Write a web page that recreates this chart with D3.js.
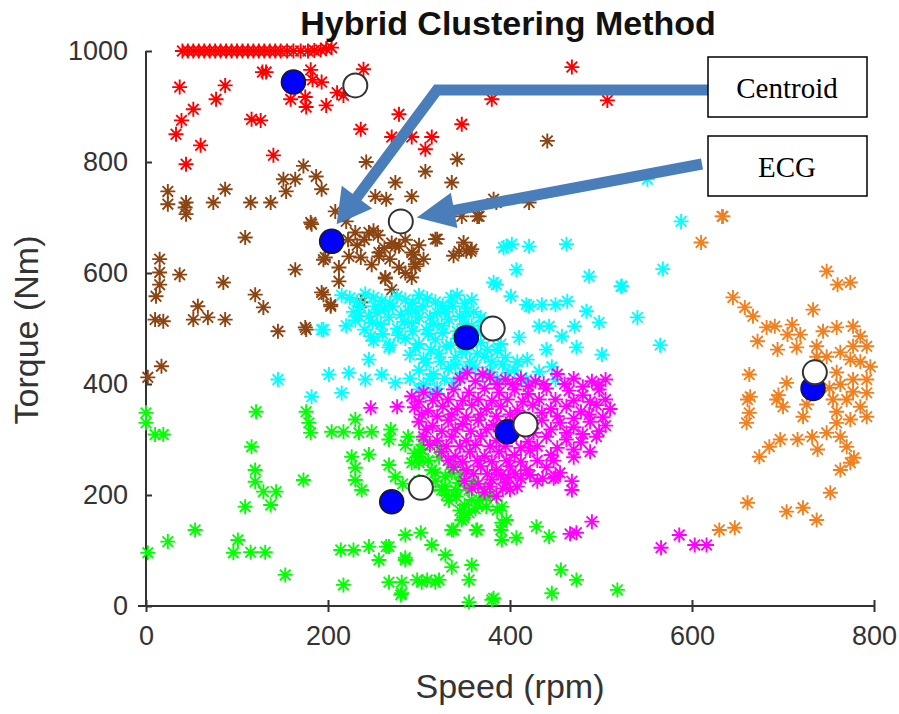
<!DOCTYPE html>
<html>
<head>
<meta charset="utf-8">
<script src="https://cdn.jsdelivr.net/npm/d3@7"></script>
<style>
  body { margin: 0; background: #fff; }
  text { font-family: "Liberation Sans", Arial, Helvetica, sans-serif; }
</style>
</head>
<body>
<div id="chart"></div>
<script>
// cluster points: [speed (rpm), torque (Nm)]
const redPts = [
  [40,1000],[46,1000],[52,1000],[58,1000],[64,1000],[70,1000],[76,1000],[82,1000],[88,1000],[94,1000],
  [100,1000],[106,1000],[112,1000],[118,1000],[124,1000],[130,1000],[136,1000],[142,1000],[148,1000],
  [155,1000],[162,1000],[170,1000],[178,1000],[185,1001],[192,1002],[198,1004],[204,1006],
  [37,935],[87,938],[77,913],[52,895],[39,875],[33,850],[60,830],[44,796],[132,962],[181,966],
  [193,944],[159,913],[175,917],[176,899],[198,902],[217,920],[239,967],[116,877],[126,875],
  [140,812],[236,859],[278,886],[270,845],[292,845],[314,845],[307,823],[347,868],[380,913],
  [468,971],[507,911],[128,962],[183,948],[210,925]
];
const brownPts = [
  [24,747],[24,724],[44,727],[44,706],[43,718],[87,751],[74,727],[115,727],[137,727],[151,769],
  [173,793],[187,774],[193,751],[164,769],[154,747],[109,664],[181,691],[208,711],[242,800],
  [274,763],[252,738],[264,733],[292,738],[307,783],[342,805],[336,763],[245,673],[250,676],
  [230,673],[220,693],[274,648],[256,630],[292,637],[296,616],[278,610],[263,592],[292,592],
  [270,570],[223,630],[212,610],[197,628],[212,585],[193,565],[203,543],[164,606],[320,661],
  [344,639],[358,643],[237,547],[176,498],[145,495],[85,583],[120,561],[129,538],[57,540],
  [52,516],[68,520],[87,516],[10,516],[19,513],[15,625],[15,601],[15,579],[11,558],[37,597],
  [182,688],[318,661],[352,639],[195,624],[236,628],[256,637],[278,648],[294,633],[296,612],
  [195,561],[203,540],[236,547],[175,502],[2,412],[17,432],[441,838],[364,702],[347,702],
  [421,727],[385,727],[382,733],[366,702],[349,655],[357,639],[338,631],[270,654],[263,590],
  [240,660],[255,668],[262,645],[285,660],[300,650],[248,615],[268,625],[285,600],[305,625],
  [232,650],[222,660]
];
const cyanPts = [
  [215,560],[232,548],[250,556],[268,545],[285,552],[300,560],[318,548],[335,556],[350,545],
  [228,530],[245,522],[262,535],[280,525],[296,532],[312,520],[328,530],[345,522],[360,530],
  [220,505],[240,498],[258,508],[276,500],[292,510],[308,498],[325,505],[342,495],[358,505],
  [372,512],[250,478],[268,470],[285,482],[300,472],[318,480],[335,470],[352,462],[368,475],
  [382,485],[290,452],[305,445],[322,455],[340,448],[356,440],[372,450],[386,460],[300,425],
  [316,418],[332,428],[348,420],[362,430],[378,422],[392,435],[305,400],[320,392],[338,402],
  [312,382],[396,648],[421,648],[462,652],[407,606],[382,583],[401,558],[487,594],[522,576],
  [421,540],[435,543],[450,543],[463,549],[484,531],[432,504],[443,504],[471,504],[498,511],
  [457,486],[410,484],[473,466],[440,462],[501,453],[419,444],[446,431],[432,422],[418,408],
  [450,408],[201,417],[223,420],[245,444],[241,408],[259,417],[274,402],[215,384],[182,377],
  [195,498],[234,522],[267,466],[247,486],[252,540],[588,693],[568,607],[523,576],[551,769],
  [145,408],[402,652],[393,646],[385,579],[418,543],[540,520],[193,498],[565,470],
  [224,555],[241,562],[259,550],[276,558],[293,546],[309,554],[326,542],[342,560],[358,552],
  [236,540],[254,528],[271,540],[288,532],[304,540],[320,528],[337,540],[352,530],[368,520],
  [230,515],[249,510],[267,520],[284,512],[300,520],[316,508],[333,516],[350,508],[365,495],
  [380,500],[260,490],[277,488],[293,495],[310,490],[326,492],[343,482],[360,488],[375,462],
  [390,472],[296,465],[313,462],[330,468],[347,458],[364,455],[380,440],[395,448],[308,438],
  [324,440],[340,435],[356,428],[370,415],[386,410],[312,410],[328,410],[346,412],[300,390],
  [290,410],[405,425],[408,440],[398,420]
];
const greenPts = [
  [0,348],[0,330],[10,309],[19,309],[121,350],[116,287],[120,245],[120,224],[129,206],[143,206],
  [137,182],[109,179],[173,227],[54,137],[24,116],[2,96],[101,119],[96,96],[115,97],[131,97],
  [153,56],[176,350],[179,330],[181,312],[204,314],[217,314],[230,336],[234,312],[248,314],
  [269,318],[226,269],[245,273],[230,249],[230,227],[237,209],[267,254],[274,233],[300,269],
  [214,101],[228,101],[245,107],[264,107],[256,83],[285,83],[285,128],[302,132],[314,110],
  [329,92],[336,70],[217,38],[267,43],[281,43],[280,20],[298,47],[309,47],[322,47],[355,47],
  [358,74],[338,137],[364,137],[349,159],[355,7],[380,11],[325,209],[340,209],[358,191],
  [292,258],[303,282],[318,240],[336,240],[329,215],[352,215],[341,197],[366,191],[355,168],
  [374,179],[386,173],[396,155],[390,137],[391,119],[407,123],[429,143],[443,125],[347,155],
  [363,137],[336,137],[267,107],[285,87],[303,43],[318,43],[281,23],[382,14],[456,65],
  [473,47],[446,23],[518,29],[267,300],[302,282],[300,258],[314,245],[329,233],[344,222],
  [355,209],[374,195],[391,179],[391,150],[305,300],[320,290],[288,305],
  [285,290],[295,275],[310,262],[322,268],[335,255],[346,238],[360,225],[372,210],[330,200],
  [312,215],[300,225],[282,220],[350,182],[362,175],[378,200],[318,225],[333,190],[345,172]
];
const magentaPts = [
  [345,410],[362,405],[378,412],[395,408],[412,410],[428,405],[452,418],[470,410],[490,405],[505,408],
  [292,378],[305,385],[320,382],[338,390],[355,385],[372,392],[388,385],[405,390],[420,382],
  [440,392],[465,388],[480,380],[498,390],[295,358],[310,352],[326,360],[342,355],[358,362],
  [374,355],[390,360],[408,352],[425,362],[445,355],[462,360],[478,350],[495,362],[510,355],
  [300,332],[315,325],[332,335],[348,328],[365,335],[382,326],[400,332],[418,325],[435,335],
  [455,330],[470,322],[488,332],[505,325],[305,305],[320,298],[336,305],[352,298],[368,306],
  [385,298],[402,305],[420,296],[440,305],[462,300],[478,295],[495,305],[325,278],[340,270],
  [356,278],[372,270],[388,278],[405,272],[422,280],[445,272],[470,268],[488,278],[338,250],
  [352,245],[368,252],[385,245],[400,252],[418,245],[440,250],[455,240],[350,225],[365,220],
  [380,228],[396,222],[412,230],[430,225],[448,230],[468,225],[372,205],[385,198],[400,210],
  [490,152],[473,132],[466,130],[566,105],[468,209],[450,233],[436,230],[586,128],[603,110],
  [616,110],[247,357],[276,359],[398,232],
  [353,420],[370,418],[386,400],[403,400],[420,396],[437,400],[460,400],[480,395],[497,398],
  [300,368],[315,370],[332,372],[348,370],[365,372],[380,370],[397,372],[414,368],[432,372],
  [450,372],[470,370],[488,368],[505,372],[303,345],[320,342],[336,345],[352,340],[368,345],
  [385,342],[400,345],[416,340],[435,348],[452,342],[470,338],[487,345],[502,340],[308,318],
  [325,315],[340,318],[357,315],[374,318],[390,315],[408,318],[426,312],[445,318],[462,312],
  [480,310],[498,315],[312,290],[330,288],[345,288],[362,290],[378,288],[395,288],[412,285],
  [430,288],[452,285],[470,282],[332,262],[348,260],[364,262],[380,260],[396,262],[412,260],
  [430,262],[448,262],[360,238],[375,238],[390,236],[406,238],[422,236],[358,212],[378,215],
  [392,212],[408,215]
];
const orangePts = [
  [634,702],[610,655],[748,603],[760,579],[774,583],[733,534],[645,556],[658,538],[667,522],
  [682,502],[691,504],[710,507],[672,477],[694,462],[705,489],[719,489],[715,466],[737,468],
  [744,495],[759,502],[777,504],[785,486],[792,468],[777,468],[763,457],[774,444],[785,440],
  [796,431],[759,421],[763,399],[777,408],[792,408],[777,386],[792,384],[755,372],[770,372],
  [785,359],[759,350],[774,336],[792,341],[759,330],[748,312],[763,305],[732,305],[716,300],
  [738,282],[770,287],[774,258],[763,245],[778,267],[663,417],[661,372],[663,348],[660,330],
  [664,377],[704,402],[693,372],[700,359],[695,380],[722,341],[726,363],[751,393],[697,300],
  [685,287],[674,269],[752,204],[661,186],[704,170],[722,177],[737,155],[630,137],[647,141],
  [737,449],[748,449],[633,702]
];
// centroid (blue) and ECG (white) per cluster
const centroidPts = [[162,944],[204,657],[352,484],[397,314],[270,188],[733,392]];
const ecgPts = [[230,938],[280,693],[381,500],[417,327],[302,213],[735,421]];
const xTicks = [0, 200, 400, 600, 800];
const yTicks = [0, 200, 400, 600, 800, 1000];

const W = 899, H = 714;
const svg = d3.select("#chart").append("svg").attr("width", W).attr("height", H);

const x = d3.scaleLinear().domain([0, 800]).range([146, 874]);
const y = d3.scaleLinear().domain([0, 1000]).range([606, 51]);

// axes (ticks crossing the axis line)
const axisColor = "#333";
const xAxis = svg.append("g").attr("transform", `translate(0,${y(0)})`)
  .call(d3.axisBottom(x).tickValues(xTicks).tickFormat(d3.format("d"))
    .tickSize(6).tickSizeOuter(0).tickPadding(14));
const yAxis = svg.append("g").attr("transform", `translate(${x(0)},0)`)
  .call(d3.axisLeft(y).tickValues(yTicks).tickFormat(d3.format("d"))
    .tickSize(6).tickSizeOuter(0).tickPadding(12));
[xAxis, yAxis].forEach(g => {
  g.select(".domain").attr("stroke", axisColor).attr("stroke-width", 2);
  g.selectAll(".tick line").attr("stroke", axisColor).attr("stroke-width", 2);
  g.selectAll(".tick text").attr("fill", axisColor).style("font-size", "27px");
});
xAxis.selectAll(".tick line").attr("y1", -6);
yAxis.selectAll(".tick line").attr("x2", 6);
xAxis.select(".domain").attr("d", `M${x(0) - 8},0H${x(800)}`);
yAxis.select(".domain").attr("d", `M0,${y(0)}V${y(1000)}`);

// asterisk markers
const star = "M-7.5,0H7.5M0,-7.5V7.5M-5.3,-5.3L5.3,5.3M-5.3,5.3L5.3,-5.3";
const clusters = [
  [redPts, "#ff0000"], [brownPts, "#8b4513"], [cyanPts, "#00ffff"],
  [greenPts, "#00ff00"], [magentaPts, "#ff00ff"], [orangePts, "#f08020"]
];
clusters.forEach(([pts, col]) => {
  svg.append("g").selectAll("path").data(pts).enter().append("path")
    .attr("d", star)
    .attr("transform", d => `translate(${x(d[0])},${y(d[1])})`)
    .attr("fill", "none").attr("stroke", col).attr("stroke-width", 1.9);
});

svg.append("g").selectAll("circle").data(centroidPts).enter().append("circle")
  .attr("cx", d => x(d[0])).attr("cy", d => y(d[1])).attr("r", 12)
  .attr("fill", "#0000ff").attr("stroke", "#1a1a1a").attr("stroke-width", 1.5);
svg.append("g").selectAll("circle").data(ecgPts).enter().append("circle")
  .attr("cx", d => x(d[0])).attr("cy", d => y(d[1])).attr("r", 12)
  .attr("fill", "#fff").attr("stroke", "#333").attr("stroke-width", 2);

// title and axis labels
svg.append("text").attr("x", 508).attr("y", 35).attr("text-anchor", "middle")
  .style("font-size", "34px").style("font-weight", "bold").attr("fill", "#111")
  .text("Hybrid Clustering Method");
svg.append("text").attr("x", 510).attr("y", 698).attr("text-anchor", "middle")
  .style("font-size", "34px").attr("fill", axisColor).text("Speed (rpm)");
svg.append("text").attr("transform", "translate(38,330) rotate(-90)").attr("text-anchor", "middle")
  .style("font-size", "34px").attr("fill", axisColor).text("Torque (Nm)");

// annotation arrows
const arrowCol = "#4a7ebb";
function arrowHead(tip, dir, len, half) {
  const bx = tip[0] - dir[0] * len, by = tip[1] - dir[1] * len;
  return `M${tip[0]},${tip[1]}L${bx - dir[1] * half},${by + dir[0] * half}L${bx + dir[1] * half},${by - dir[0] * half}Z`;
}
function unit(a, b) {
  const dx = b[0] - a[0], dy = b[1] - a[1], l = Math.hypot(dx, dy);
  return [dx / l, dy / l];
}
// Centroid arrow -> brown cluster centroid
const c = centroidPts[1];
const cTip = [x(c[0]) + 5, y(c[1]) - 17];
const cBend = [437, 90];
const cDir = unit(cBend, cTip);
const cShaftEnd = [cTip[0] - cDir[0] * 28, cTip[1] - cDir[1] * 28];
svg.append("path").attr("d", `M708,90H${cBend[0]}L${cShaftEnd[0]},${cShaftEnd[1]}`)
  .attr("fill", "none").attr("stroke", arrowCol).attr("stroke-width", 11).attr("stroke-linejoin", "miter");
svg.append("path").attr("d", arrowHead(cTip, cDir, 34, 19)).attr("fill", arrowCol);
// ECG arrow -> brown cluster ECG
const e = ecgPts[1];
const eTip = [x(e[0]) + 16, y(e[1]) - 4];
const eStart = [702, 164];
const eDir = unit(eStart, eTip);
const eShaftEnd = [eTip[0] - eDir[0] * 30, eTip[1] - eDir[1] * 30];
svg.append("path").attr("d", `M${eStart[0]},${eStart[1]}L${eShaftEnd[0]},${eShaftEnd[1]}`)
  .attr("stroke", arrowCol).attr("stroke-width", 11);
svg.append("path").attr("d", arrowHead(eTip, eDir, 38, 18)).attr("fill", arrowCol);

// label boxes
const boxes = [["Centroid", 57], ["ECG", 136]];
boxes.forEach(([t, top]) => {
  svg.append("rect").attr("x", 708).attr("y", top).attr("width", 159).attr("height", 60)
    .attr("fill", "#fff").attr("stroke", "#000").attr("stroke-width", 1.5);
  svg.append("text").attr("x", 787).attr("y", top + 41).attr("text-anchor", "middle")
    .style("font-family", "'Liberation Serif', 'Times New Roman', serif")
    .style("font-size", "29px").attr("fill", "#000").text(t);
});
</script>
</body>
</html>
